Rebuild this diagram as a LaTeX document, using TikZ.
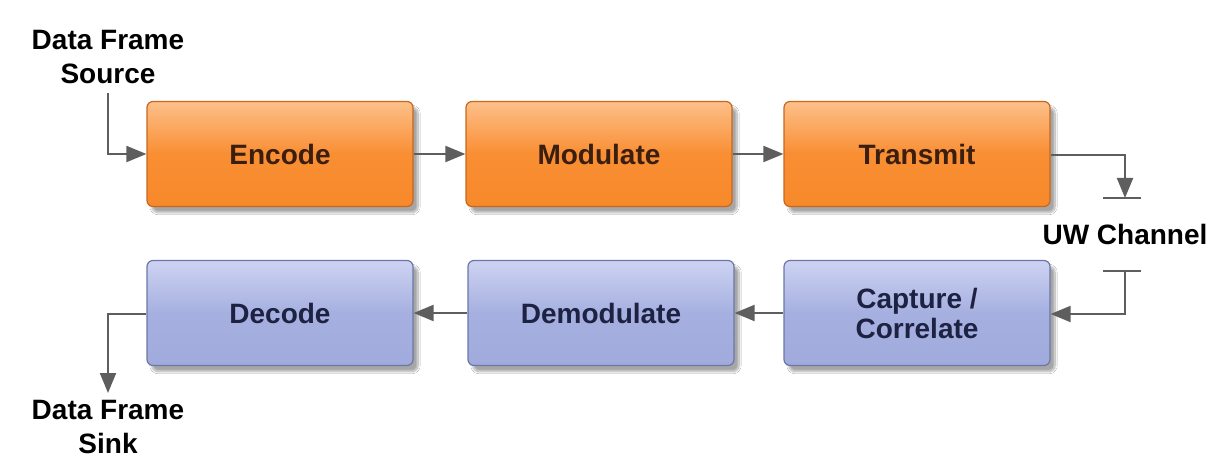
\documentclass[tikz,border=0pt]{standalone}
\usepackage{fontspec}
\setmainfont{Liberation Sans}
\usetikzlibrary{arrows.meta,shadows.blur,positioning}

\definecolor{orangeTop}{HTML}{FDC08A}
\definecolor{orangeMid}{HTML}{F98E33}
\definecolor{orangeBot}{HTML}{F7892A}
\definecolor{orangeEdge}{HTML}{C8671C}
\definecolor{blueTop}{HTML}{CDD3F2}
\definecolor{blueMid}{HTML}{A6B0E0}
\definecolor{blueBot}{HTML}{A0AADC}
\definecolor{blueEdge}{HTML}{6C77A8}
\definecolor{wire}{HTML}{5E5E5E}
\definecolor{orangeText}{HTML}{3A1E10}
\definecolor{blueText}{HTML}{1E2242}

\tikzset{
  block/.style={rounded corners=6pt, minimum width=266pt, minimum height=105pt,
    line width=1.2pt, align=center, font=\bfseries\fontsize{28}{32}\selectfont,
    blur shadow={shadow xshift=5pt, shadow yshift=-6pt, shadow blur steps=12,
                 shadow blur extra rounding=4pt, shadow opacity=35}},
  txblock/.style={block, draw=orangeEdge, text=orangeText,
    top color=orangeTop, bottom color=orangeBot, middle color=orangeMid},
  rxblock/.style={block, draw=blueEdge, text=blueText,
    top color=blueTop, bottom color=blueBot, middle color=blueMid},
  label/.style={font=\bfseries\fontsize{28}{32}\selectfont, text=black, align=center},
  wireline/.style={draw=wire, line width=2pt},
  flow/.style={wireline, -{Triangle[length=20pt,width=16pt]}},
}

\begin{document}
\begin{tikzpicture}[x=1pt,y=-1pt]
  \useasboundingbox[fill=white] (0,0) rectangle (1212,457);

  % transmit chain
  \node[txblock] (enc) at (280,154) {Encode};
  \node[txblock] (mod) at (599,154) {Modulate};
  \node[txblock] (tx)  at (917,154) {Transmit};

  % receive chain
  \node[rxblock] (dec)  at (280,313) {Decode};
  \node[rxblock] (dem)  at (601,313) {Demodulate};
  \node[rxblock] (cap)  at (917,313) {Capture /\\[-2pt]Correlate};

  % terminals
  \node[label] (src) at (108,57) {Data Frame\\[2pt]Source};
  \node[label] (snk) at (108,427) {Data Frame\\[2pt]Sink};
  \node[label] (uw)  at (1125,234) {UW Channel};

  \coordinate (srcEnd) at (108,93);
  \coordinate (txTurn) at (1125,155);
  \coordinate (txGnd)  at (1125,198);
  \coordinate (rxGnd)  at (1125,271);
  \coordinate (rxTurn) at (1125,314);
  \coordinate (snkTurn) at (108,314);
  \coordinate (snkEnd) at (108,393);

  % ground bars on either side of the channel
  \draw[wireline] (1103,198) -- (1141,198);
  \draw[wireline] (1103,271) -- (1141,271);

  % connectors
  \draw[flow] (srcEnd) |- (enc.west);
  \draw[flow] (enc) -- (mod);
  \draw[flow] (mod) -- (tx);
  \draw[flow] (tx.east |- txTurn) -- (txTurn) -- (txGnd);
  \draw[flow] (rxGnd) -- (rxTurn) -- (cap.east |- rxTurn);
  \draw[flow] (cap) -- (dem);
  \draw[flow] (dem) -- (dec);
  \draw[flow] (dec.west |- snkTurn) -- (snkTurn) -- (snkEnd);
\end{tikzpicture}
\end{document}
